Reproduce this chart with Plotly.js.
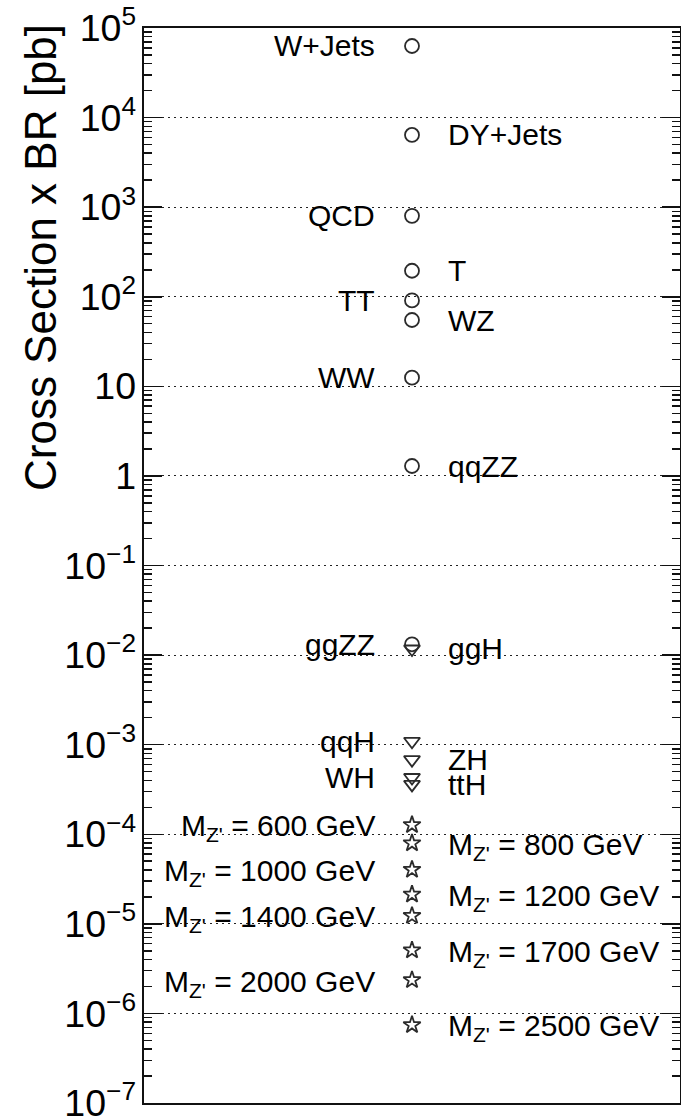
<!DOCTYPE html>
<html>
<head>
<meta charset="utf-8">
<script src="https://cdn.plot.ly/plotly-3.0.1.min.js"></script>
<style>
  html, body { margin: 0; padding: 0; background: #fff; }
  #chart { width: 681px; height: 1120px; }
</style>
</head>
<body>
<div id="chart"></div>
<script>
// Background processes: cross section x BR in pb
const bkgNames = ['W+Jets', 'DY+Jets', 'QCD', 'T', 'TT', 'WZ', 'WW', 'qqZZ', 'ggZZ'];
const bkgXsec  = [63000, 6400, 800, 195, 91, 55, 12.5, 1.29, 0.0132];
const bkgSide  = ['left', 'right', 'left', 'right', 'left', 'right', 'left', 'right', 'left'];

// Higgs production modes
const higgsNames = ['ggH', 'qqH', 'ZH', 'WH', 'ttH'];
const higgsXsec  = [0.0117, 0.00109, 0.00068, 0.00043, 0.00036];
const higgsSide  = ['right', 'left', 'right', 'left', 'right'];

// Z' signal hypotheses
const zpMass = [600, 800, 1000, 1200, 1400, 1700, 2000, 2500];
const zpXsec = [1.27e-4, 7.95e-5, 4.03e-5, 2.13e-5, 1.23e-5, 5.07e-6, 2.36e-6, 7.43e-7];
const zpSide = ['left', 'right', 'left', 'right', 'left', 'right', 'left', 'right'];

const FONT = 'Liberation Sans, Arial, Helvetica, sans-serif';
const INK = '#000';
const MARK = '#2b2b2b';
const XPOS = 0.5;

function markerTrace(values, symbol, size) {
  return {
    type: 'scatter',
    mode: 'markers',
    x: values.map(() => XPOS),
    y: values,
    marker: { symbol: symbol, size: size, color: MARK, line: { color: MARK, width: 1.8 } },
    hoverinfo: 'y',
    showlegend: false,
    cliponaxis: false
  };
}

function labels(names, values, sides) {
  return names.map((n, i) => ({
    x: XPOS,
    y: Math.log10(values[i]),
    xref: 'x', yref: 'y',
    text: n,
    showarrow: false,
    xanchor: sides[i] === 'left' ? 'right' : 'left',
    yanchor: 'middle',
    xshift: sides[i] === 'left' ? -35 : 34,
    font: { family: FONT, size: 30, color: INK }
  }));
}

const zpNames = zpMass.map(m => "M<sub>Z'</sub> = " + m + ' GeV');

const annotations = []
  .concat(labels(bkgNames, bkgXsec, bkgSide))
  .concat(labels(higgsNames, higgsXsec, higgsSide))
  .concat(labels(zpNames, zpXsec, zpSide).map(a => Object.assign(a, { yshift: -3 })));

// rotated y-axis title, aligned towards the top of the axis
annotations.push({
  xref: 'paper', yref: 'paper',
  x: (40 - 144) / 536, y: (1103 - 258) / 1075,
  xanchor: 'center', yanchor: 'middle',
  text: 'Cross Section x BR [pb]',
  textangle: -90,
  showarrow: false,
  font: { family: FONT, size: 44, color: INK }
});

const data = [
  markerTrace(bkgXsec, 'circle-open', 14),
  markerTrace(higgsXsec, 'triangle-down-open', 14),
  markerTrace(zpXsec, 'star-open', 13),
  // invisible carrier for the right-hand tick axis
  { type: 'scatter', mode: 'markers', x: [XPOS], y: [1], yaxis: 'y2',
    marker: { opacity: 0 }, hoverinfo: 'skip', showlegend: false }
];

const tickStyle = {
  type: 'log',
  range: [-7, 5],
  dtick: 1,
  ticks: 'inside',
  ticklen: 18,
  tickwidth: 1.5,
  tickcolor: '#111',
  zeroline: false,
  minor: {
    dtick: 'D1',
    ticks: 'inside',
    ticklen: 8,
    tickwidth: 1.5,
    tickcolor: '#111',
    showgrid: false
  },
  fixedrange: true
};

const layout = {
  width: 681,
  height: 1120,
  margin: { l: 144, r: 1, t: 28, b: 17, pad: 0 },
  paper_bgcolor: '#fff',
  plot_bgcolor: '#fff',
  showlegend: false,
  xaxis: {
    range: [0, 1],
    showticklabels: false,
    ticks: '',
    showgrid: false,
    zeroline: false,
    showline: true,
    linecolor: '#111',
    linewidth: 2,
    mirror: true,
    fixedrange: true
  },
  yaxis: Object.assign({}, tickStyle, {
    exponentformat: 'power',
    ticklabelstandoff: 0,
    ticklabeloverflow: 'allow',
    tickfont: { family: FONT, size: 30, color: INK },
    showline: true,
    linecolor: '#111',
    linewidth: 2,
    mirror: true,
    showgrid: true,
    gridcolor: '#222',
    gridwidth: 1,
    griddash: '2px,4px'
  }),
  yaxis2: Object.assign({}, tickStyle, {
    overlaying: 'y',
    side: 'right',
    showticklabels: false,
    showgrid: false,
    showline: false
  }),
  annotations: annotations
};

Plotly.newPlot('chart', data, layout, { displayModeBar: false, staticPlot: true });
</script>
</body>
</html>
